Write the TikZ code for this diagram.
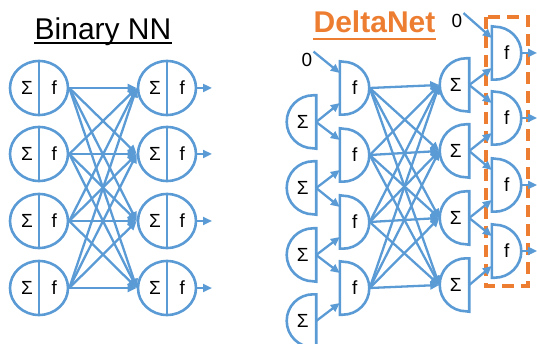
\documentclass[tikz,border=0pt]{standalone}
\usepackage{fontspec}
\setmainfont{Liberation Sans}
\usetikzlibrary{arrows.meta,shapes.geometric}
\definecolor{nnblue}{HTML}{5B9BD5}
\definecolor{nnorange}{HTML}{ED7D31}
\begin{document}
\begin{tikzpicture}[x=1pt,y=-1pt,
  wire/.style={draw=nnblue,line width=2.6pt},
  conn/.style={draw=nnblue,line width=2.3pt,-{Triangle[length=9pt,width=8pt]}},
  lbl/.style={font=\fontsize{19}{19}\selectfont,inner sep=1pt},
  neuron/.style={ellipse,draw=nnblue,line width=2.6pt,minimum width=58pt,
    minimum height=54pt,inner sep=0pt,font=\fontsize{19}{19}\selectfont},
  half/.style={minimum width=29.5pt,minimum height=53pt,inner sep=0pt,
    font=\fontsize{19}{19}\selectfont},
  title/.style={font=\fontsize{30}{30}\selectfont,anchor=base,inner sep=0pt}
]
\useasboundingbox (0,0) rectangle (537,344);

% ---------- titles ----------
\node[title] (t1) at (103,39.5) {Binary NN};
\draw[black,line width=1.8pt] ([yshift=-3.5pt]t1.base west) -- ([yshift=-3.5pt]t1.base east);
\node[title,font=\fontsize{30}{30}\selectfont\bfseries,text=nnorange] (t2) at (374.5,33) {DeltaNet};
\draw[nnorange,line width=1.8pt] ([yshift=-6pt]t2.base west) -- ([yshift=-6pt]t2.base east);

% ---------- binary network ----------
\foreach \i/\y in {1/88,2/154,3/221,4/288}{
  \node[neuron] (a\i) at (39,\y) {\makebox[36pt]{Σ\hfill f}};
  \node[neuron] (b\i) at (167,\y) {\makebox[36pt]{Σ\hfill f}};
  \draw[wire] (a\i.north) -- (a\i.south);
  \draw[wire] (b\i.north) -- (b\i.south);
  \coordinate (o\i) at (212,\y);
  \draw[conn] (b\i.east) -- (o\i);
}
\foreach \i in {1,...,4}
  \foreach \j in {1,...,4}
    \draw[conn] (a\i.east) -- (b\j.west);

% ---------- DeltaNet ----------
\draw[nnorange,line width=3.2pt,dash pattern=on 12pt off 7pt] (486,17) rectangle (528,286);

% input sums (flat side right)
\foreach \i/\y in {1/122,2/188,3/255,4/321}
  \node[half] (s\i) at (301.25,\y) {\hspace*{3pt}Σ};
% first activations (flat side left)
\foreach \i/\y in {1/88,2/155,3/222,4/288}
  \node[half] (g\i) at (354.75,\y) {f};
% hidden sums (flat side right)
\foreach \i/\y in {1/85,2/151,3/218,4/285}
  \node[half] (m\i) at (454.25,\y) {\hspace*{3pt}Σ};
% output activations (flat side left)
\foreach \i/\y in {1/53,2/118,3/185,4/251}{
  \node[half] (h\i) at (506.75,\y) {f};
  \coordinate (q\i) at (537,\y);
}

% outlines of the half-disc units
\foreach \n in {s1,s2,s3,s4,m1,m2,m3,m4}
  \draw[wire] (\n.north east) -- ++(-3pt,0)
     arc[start angle=90,end angle=270,radius=26.5pt] -- (\n.south east) -- cycle;
\foreach \n in {g1,g2,g3,g4,h1,h2,h3,h4}
  \draw[wire] (\n.south west) -- ++(3pt,0)
     arc[start angle=-90,end angle=90,radius=26.5pt] -- (\n.north west) -- cycle;

% zero inputs
\node[lbl] (z1) at (307,59.5) {0};
\node[lbl] (z2) at (457,21) {0};
\draw[conn] (z1.north east) -- ([yshift=15pt]g1.west);
\draw[conn] (z2.north east) -- ([yshift=15pt]h1.west);

% sums feeding two neighbouring activations
\foreach \i in {1,...,4}
  \draw[conn] (s\i.east) -- ([yshift=-15pt]g\i.west);
\foreach \i/\k in {1/2,2/3,3/4}
  \draw[conn] (s\i.east) -- ([yshift=15pt]g\k.west);
\foreach \i in {1,...,4}
  \draw[conn] (m\i.east) -- ([yshift=-15pt]h\i.west);
\foreach \i/\k in {1/2,2/3,3/4}
  \draw[conn] (m\i.east) -- ([yshift=15pt]h\k.west);

% full connection between the activations and the hidden sums
\foreach \i in {1,...,4}
  \foreach \j in {1,...,4}
    \draw[conn] (g\i.east) -- (m\j.west);

% outputs
\foreach \i in {1,...,4}
  \draw[conn] (h\i.east) -- (q\i);
\end{tikzpicture}
\end{document}
